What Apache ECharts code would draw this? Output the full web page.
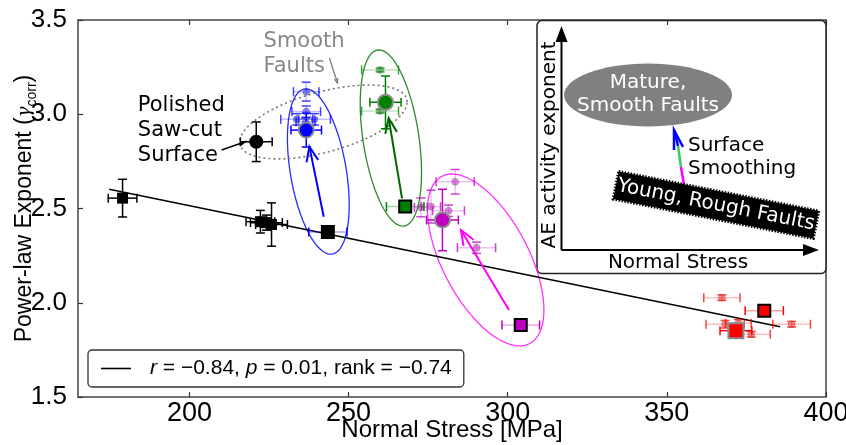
<!DOCTYPE html>
<html>
<head>
<meta charset="utf-8">
<script src="https://cdn.jsdelivr.net/npm/echarts@6/dist/echarts.min.js"></script>
<style>
  html, body { margin: 0; padding: 0; background: #fff; }
  #chart { width: 846px; height: 445px; }
</style>
</head>
<body>
<div id="chart"></div>
<script>
// Axis ticks
const xTicks = [200, 250, 300, 350, 400];
const yTicks = [1.5, 2.0, 2.5, 3.0, 3.5];

// Rows: [normal stress (MPa), power-law exponent, stress error, exponent error]
const roughFaults = [[179, 2.555, 4.5, 0.10], [222.3, 2.43, 4.5, 0.06], [224.2, 2.425, 5, 0.04], [225.8, 2.415, 5, 0.115]];
const polishedSurface = [[221, 2.854, 5, 0.105]];

const blueStart = [[243.5, 2.375, 6, 0.012]];
const blueMean = [[236.7, 2.916, 4.8, 0.09]];
const blueRuns = [[236.7, 3.12, 4, 0.05], [236.7, 3.014, 4.5, 0.03], [233.7, 2.973, 5, 0.03],
                  [239.3, 2.973, 5, 0.03], [236.5, 2.96, 3, 0.02]];

const greenStart = [[267.8, 2.51, 5.9, 0.01]];
const greenMean = [[261.6, 3.063, 4.9, 0.14]];
const greenRuns = [[259.9, 3.235, 5.8, 0.01], [259.9, 3.017, 5.8, 0.01]];

const magentaStart = [[304.1, 1.882, 5.9, 0.01]];
const magentaMean = [[279.5, 2.439, 5, 0.163]];
const magentaRuns = [[283.5, 2.642, 6, 0.065], [275.9, 2.51, 3, 0.087], [272.7, 2.506, 2, 0.05],
                     [281.4, 2.488, 5, 0.03], [290.2, 2.292, 6, 0.03]];

const redStart = [[380.6, 1.958, 6, 0.015]];
const redMean = [[371.7, 1.852, 5, 0.02]];
const redRuns = [[367.3, 2.027, 5.7, 0.015], [368.3, 1.886, 6, 0.02], [372.5, 1.891, 4, 0.02],
                 [376.5, 1.833, 6, 0.015], [389.2, 1.886, 5.9, 0.015]];

// Least-squares fit through all experiments
const fitLine = [[174.8, 2.602], [385.6, 1.873]];
const fitR = -0.84, fitP = 0.01, fitRank = -0.74;

// Confidence ellipses: [centre x, centre y, ux, uy, vx, vy] (conjugate semi-diameters)
const ellipses = [
  [240.5, 2.696, 4.39, -0.4377, 8.65, 0.0248],
  [263.3, 2.874, 4.17, -0.4668, 8.68, 0.0222],
  [293.1, 2.227, 18.28, -0.265, 0, 0.371],
  [242.1, 2.959, 26.3, 0.106, 0, 0.165]
];
const ellipseColors = ['#2b2bff', '#2e8b2e', '#ff33ff', '#777777'];
const ellipseDash = [null, null, null, [2, 3]];

// Evolution arrows: [from x, from y, to x, to y]
const shiftArrows = [[242.2, 2.456, 237.7, 2.828], [266.8, 2.554, 262.6, 2.979], [300.4, 1.961, 285.3, 2.386]];
const shiftColors = ['#0000ff', '#006400', '#ff00ff'];

const fmt = v => (v < 0 ? '\u2212' : '') + Math.abs(v).toFixed(2);

function rgba(hex, a) {
  const n = parseInt(hex.slice(1), 16);
  return `rgba(${(n >> 16) & 255},${(n >> 8) & 255},${n & 255},${a})`;
}

function errorBars(data, color, barAlpha, capAlpha, z) {
  return {
    type: 'custom', data, z, silent: true, encode: { x: 0, y: 1 },
    renderItem(params, api) {
      const x = api.value(0), y = api.value(1), ex = api.value(2), ey = api.value(3);
      const c = api.coord([x, y]);
      const l = api.coord([x - ex, y])[0], r = api.coord([x + ex, y])[0];
      const t = api.coord([x, y + ey])[1], b = api.coord([x, y - ey])[1];
      const cap = 4.5;
      const bar = { stroke: rgba(color, barAlpha), lineWidth: 1.5 };
      const cp = { stroke: rgba(color, capAlpha), lineWidth: 1.5 };
      return {
        type: 'group', children: [
          { type: 'line', shape: { x1: l, y1: c[1], x2: r, y2: c[1] }, style: bar },
          { type: 'line', shape: { x1: c[0], y1: t, x2: c[0], y2: b }, style: bar },
          { type: 'line', shape: { x1: l, y1: c[1] - cap, x2: l, y2: c[1] + cap }, style: cp },
          { type: 'line', shape: { x1: r, y1: c[1] - cap, x2: r, y2: c[1] + cap }, style: cp },
          { type: 'line', shape: { x1: c[0] - cap, y1: t, x2: c[0] + cap, y2: t }, style: cp },
          { type: 'line', shape: { x1: c[0] - cap, y1: b, x2: c[0] + cap, y2: b }, style: cp }
        ]
      };
    }
  };
}

function markers(data, symbol, size, fill, border, borderWidth, z) {
  return {
    type: 'scatter', data: data.map(d => [d[0], d[1]]), symbol, symbolSize: size, z, silent: true,
    itemStyle: { color: fill, borderColor: border, borderWidth, opacity: 1 }
  };
}

function arrow(p1, p2, color, width, head, filled) {
  const ang = Math.atan2(p2[1] - p1[1], p2[0] - p1[0]);
  const a1 = ang + Math.PI - 0.38, a2 = ang + Math.PI + 0.38;
  const h1 = [p2[0] + head * Math.cos(a1), p2[1] + head * Math.sin(a1)];
  const h2 = [p2[0] + head * Math.cos(a2), p2[1] + head * Math.sin(a2)];
  const kids = [{ type: 'line', shape: { x1: p1[0], y1: p1[1], x2: p2[0], y2: p2[1] }, style: { stroke: color, lineWidth: width } }];
  if (filled) kids.push({ type: 'polygon', shape: { points: [p2, h1, h2] }, style: { fill: color } });
  else kids.push({ type: 'polyline', shape: { points: [h1, p2, h2] }, style: { stroke: color, lineWidth: width, fill: null } });
  return kids;
}

const groups = [
  { start: blueStart, mean: blueMean, runs: blueRuns, color: '#0000ff', startFill: '#000000', meanSymbol: 'circle' },
  { start: greenStart, mean: greenMean, runs: greenRuns, color: '#008000', startFill: '#008000', meanSymbol: 'circle' },
  { start: magentaStart, mean: magentaMean, runs: magentaRuns, color: '#c000c0', startFill: '#c000c0', meanSymbol: 'circle' },
  { start: redStart, mean: redMean, runs: redRuns, color: '#ff0000', startFill: '#ff0000', meanSymbol: 'rect' }
];

const series = [];

// Ellipses
series.push({
  type: 'custom', data: ellipses, z: 2, silent: true, encode: { x: 0, y: 1 },
  renderItem(params, api) {
    const i = params.dataIndex;
    const cx = api.value(0), cy = api.value(1), ux = api.value(2), uy = api.value(3), vx = api.value(4), vy = api.value(5);
    const pts = [];
    for (let k = 0; k <= 120; k++) {
      const t = k / 120 * 2 * Math.PI;
      pts.push(api.coord([cx + ux * Math.cos(t) + vx * Math.sin(t), cy + uy * Math.cos(t) + vy * Math.sin(t)]));
    }
    return { type: 'polyline', shape: { points: pts },
      style: { stroke: ellipseColors[i], lineWidth: i === 3 ? 1.6 : 1.3, fill: null, lineDash: ellipseDash[i] } };
  }
});

// Fit line
series.push({
  name: 'fit', type: 'line', data: fitLine, symbol: 'none', z: 3, silent: true,
  lineStyle: { color: '#000', width: 1.6 }, itemStyle: { color: '#000' }
});

// Arrows showing the shift of each experiment
series.push({
  type: 'custom', data: shiftArrows, z: 4, silent: true, encode: { x: 0, y: 1 },
  renderItem(params, api) {
    const p1 = api.coord([api.value(0), api.value(1)]);
    const p2 = api.coord([api.value(2), api.value(3)]);
    return { type: 'group', children: arrow(p1, p2, shiftColors[params.dataIndex], 2, 16, false) };
  }
});

// Experiment groups
groups.forEach(g => {
  series.push(errorBars(g.runs, g.color, 0.25, 0.75, 5));
  series.push(markers(g.runs, 'circle', 7, rgba(g.color, 0.45), 'rgba(120,120,120,0.5)', 1, 6));
  series.push(errorBars(g.mean, g.color, 1, 1, 7));
  series.push(errorBars(g.start, g.color, 0.35, 1, 7));
});

series.push(errorBars(roughFaults, '#000000', 1, 1, 7));
series.push(markers(roughFaults, 'rect', 11, '#000', '#000', 0, 8));
series.push(errorBars(polishedSurface, '#000000', 1, 1, 7));
series.push(markers(polishedSurface, 'circle', 14, '#000', '#000', 0, 8));

groups.forEach(g => {
  series.push(markers(g.start, 'rect', 12, g.startFill, '#000', 2, 9));
  series.push(markers(g.mean, g.meanSymbol, 15, g.color, '#8a8a8a', 2, 9));
});

// Text annotations
series.push({
  type: 'custom', data: [[0, 0]], z: 10, silent: true, encode: { x: 0, y: 1 },
  renderItem(params, api) {
    const pol = api.coord([183.8, 2.916]);
    const smo = api.coord([223.3, 3.317]);
    const a1 = api.coord([210.1, 2.810]), a2 = api.coord([218.0, 2.857]);
    const b1 = api.coord([244.0, 3.298]), b2 = api.coord([246.5, 3.166]);
    return {
      type: 'group', children: [
        { type: 'text', x: pol[0], y: pol[1], style: { text: 'Polished\nSaw-cut\nSurface', fill: '#000',
          font: '21px "DejaVu Sans"', lineHeight: 25, align: 'left', verticalAlign: 'middle',
          textAlign: 'left', textVerticalAlign: 'middle' } },
        { type: 'text', x: smo[0], y: smo[1], style: { text: 'Smooth\nFaults', fill: '#888',
          font: '21px "DejaVu Sans"', lineHeight: 25, align: 'left', verticalAlign: 'middle',
          textAlign: 'left', textVerticalAlign: 'middle' } },
        ...arrow(a1, a2, '#000', 1.6, 7, true),
        ...arrow(b1, b2, '#888', 1.4, 5, false)
      ]
    };
  }
});

const tickLine = { color: '#333', width: 1.2 };
const labelFont = '"Liberation Sans", Arial, sans-serif';

const option = {
  animation: false,
  grid: { left: 78, right: 20, top: 20, bottom: 48, outerBoundsMode: 'none', containLabel: false,
          show: true, borderColor: '#444', borderWidth: 1.5, backgroundColor: 'transparent' },
  xAxis: [
    {
      type: 'value', min: 165, max: 400, position: 'bottom',
      name: 'Normal Stress [MPa]', nameLocation: 'middle', nameGap: 21, nameMoveOverlap: false,
      nameTextStyle: { fontFamily: labelFont, fontSize: 24, color: '#000', verticalAlign: 'top', lineHeight: 24 },
      axisLine: { show: false },
      axisTick: { inside: true, length: 5, customValues: xTicks, lineStyle: tickLine },
      axisLabel: { customValues: xTicks, fontFamily: '"Liberation Sans Narrow", "Liberation Sans", sans-serif', fontSize: 27, color: '#000', margin: 3 },
      splitLine: { show: false }
    },
    {
      type: 'value', min: 165, max: 400, position: 'top',
      axisLine: { show: false },
      axisTick: { inside: true, length: 5, customValues: xTicks, lineStyle: tickLine },
      axisLabel: { show: false }, splitLine: { show: false }
    }
  ],
  yAxis: [
    {
      type: 'value', min: 1.5, max: 3.5, interval: 0.5, position: 'left',
      name: '{t|Power-law Exponent (}{g|\u03b3}{s|corr}{t|)}', nameLocation: 'middle', nameGap: 39, nameRotate: 90,
      nameMoveOverlap: false,
      nameTextStyle: {
        color: '#000',
        rich: {
          t: { fontFamily: labelFont, fontSize: 23, color: '#000', lineHeight: 28 },
          g: { fontFamily: '"DejaVu Serif", serif', fontStyle: 'italic', fontSize: 18, color: '#000', lineHeight: 28 },
          s: { fontFamily: labelFont, fontSize: 14, color: '#000', verticalAlign: 'bottom', lineHeight: 28 }
        }
      },
      axisLine: { show: false },
      axisTick: { inside: true, length: 5, lineStyle: tickLine },
      axisLabel: { formatter: v => v.toFixed(1), fontFamily: labelFont, fontSize: 26, color: '#000', margin: 11 },
      splitLine: { show: false }
    }
  ],
  legend: {
    data: ['fit'], left: 88, top: 350, orient: 'horizontal', icon: 'rect',
    padding: [8, 12, 8, 13], borderColor: '#333', borderWidth: 1.3, borderRadius: 4, backgroundColor: '#fff',
    itemWidth: 30, itemHeight: 1.6,
    formatter: () => `{i|r} = ${fmt(fitR)}, {i|p} = ${fmt(fitP)}, rank = ${fmt(fitRank)}`,
    textStyle: {
      fontFamily: labelFont, fontSize: 21, color: '#000', padding: [0, 0, 0, 14],
      rich: { i: { fontFamily: labelFont, fontStyle: 'italic', fontSize: 21, color: '#000' } }
    }
  },
  series,
  graphic: [
    {
      type: 'group', z: 100, children: [
        { type: 'rect', shape: { x: 537, y: 20.5, width: 289, height: 253, r: 5 }, style: { fill: '#fff', stroke: '#222', lineWidth: 1.5 } },
        { type: 'line', shape: { x1: 561.5, y1: 250, x2: 561.5, y2: 40 }, style: { stroke: '#000', lineWidth: 2 } },
        { type: 'polygon', shape: { points: [[561.5, 26], [555.5, 42], [567.5, 42]] }, style: { fill: '#000' } },
        { type: 'line', shape: { x1: 561.5, y1: 250, x2: 806, y2: 250 }, style: { stroke: '#000', lineWidth: 2 } },
        { type: 'polygon', shape: { points: [[819, 250], [803, 244], [803, 256]] }, style: { fill: '#000' } },
        { type: 'text', x: 550, y: 145, rotation: Math.PI / 2,
          style: { text: 'AE activity exponent', fill: '#000', font: '20px "DejaVu Sans"', align: 'center', verticalAlign: 'middle', textAlign: 'center', textVerticalAlign: 'middle' } },
        { type: 'text', x: 678, y: 263,
          style: { text: 'Normal Stress', fill: '#000', font: '20px "DejaVu Sans"', align: 'center', verticalAlign: 'middle', textAlign: 'center', textVerticalAlign: 'middle' } },
        { type: 'ellipse', shape: { cx: 648, cy: 95, rx: 84, ry: 31.5 }, style: { fill: '#808080' } },
        { type: 'text', x: 648, y: 94,
          style: { text: 'Mature,\nSmooth Faults', fill: '#fff', font: '20px "DejaVu Sans"', lineHeight: 23, align: 'center', verticalAlign: 'middle', textAlign: 'center', textVerticalAlign: 'middle' } },
        { type: 'line', shape: { x1: 684, y1: 185, x2: 681, y2: 167 }, style: { stroke: '#ff00ff', lineWidth: 2.5 } },
        { type: 'line', shape: { x1: 681, y1: 167, x2: 678, y2: 146 }, style: { stroke: '#33cc66', lineWidth: 2.5 } },
        { type: 'line', shape: { x1: 678, y1: 146, x2: 674.5, y2: 131 }, style: { stroke: '#0000ff', lineWidth: 2.5 } },
        { type: 'polyline', shape: { points: [[674, 150], [674, 130], [683, 147]] }, style: { stroke: '#0000ff', lineWidth: 2.5, fill: null } },
        { type: 'text', x: 688, y: 146,
          style: { text: 'Surface', fill: '#000', font: '20px "DejaVu Sans"', align: 'left', verticalAlign: 'middle', textAlign: 'left', textVerticalAlign: 'middle' } },
        { type: 'text', x: 688, y: 169,
          style: { text: 'Smoothing', fill: '#000', font: '20px "DejaVu Sans"', align: 'left', verticalAlign: 'middle', textAlign: 'left', textVerticalAlign: 'middle' } },
        {
          type: 'group', x: 716, y: 205, rotation: -0.195, children: [
            { type: 'rect', shape: { x: -102, y: -14, width: 204, height: 28 }, style: { fill: '#000', stroke: '#000', lineWidth: 3, lineDash: [1.5, 1.5] } },
            { type: 'text', x: 0, y: 0,
              style: { text: 'Young, Rough Faults', fill: '#fff', font: '20px "DejaVu Sans"', align: 'center', verticalAlign: 'middle', textAlign: 'center', textVerticalAlign: 'middle' } }
          ]
        }
      ]
    }
  ]
};

const chart = echarts.init(document.getElementById('chart'), null, { renderer: 'canvas' });
chart.setOption(option);
</script>
</body>
</html>
